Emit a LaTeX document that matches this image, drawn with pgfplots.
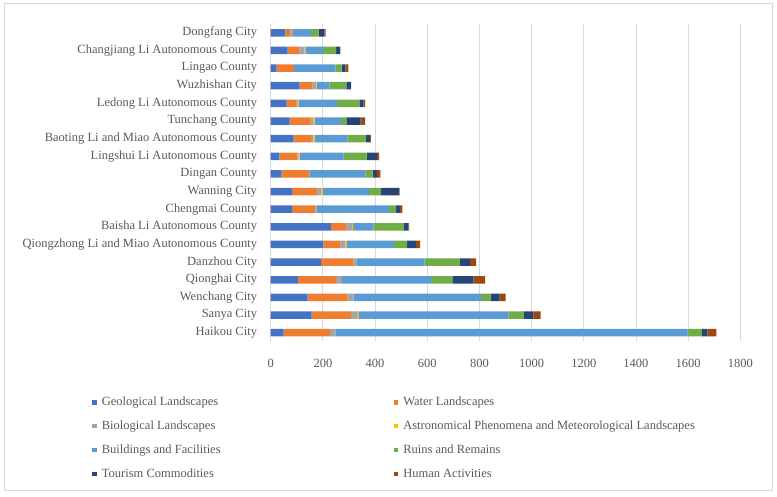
\documentclass[border=0pt]{standalone}
\usepackage{pgfplots}
\usepackage{pgfplotstable}
\pgfplotsset{compat=1.18}
\usepackage{fontspec}
\setmainfont{Liberation Serif}
\definecolor{cGeo}{HTML}{4472C4}
\definecolor{cWat}{HTML}{ED7D31}
\definecolor{cBio}{HTML}{A5A5A5}
\definecolor{cAst}{HTML}{FFC000}
\definecolor{cBui}{HTML}{5B9BD5}
\definecolor{cRui}{HTML}{70AD47}
\definecolor{cTou}{HTML}{264478}
\definecolor{cHum}{HTML}{9E480E}
\definecolor{txt}{HTML}{595959}
\definecolor{grd}{HTML}{D9D9D9}
\pgfplotstableread{
idx geo wat bio ast bui rui tou hum
0  50  178 20 0 1350 55  21 34
1  157 150 24 5 575  59  37 28
2  142 153 23 0 489  38  32 23
3  105 146 23 0 341  81  82 44
4  193 125 13 0 259  135 39 23
5  202 65  19 6 180  51  33 17
6  231 59  21 5 78   116 18 3
7  82  88  6  0 277  28  14 10
8  82  98  14 6 177  45  69 3
9  42  106 0  0 215  28  16 13
10 33  69  5  4 169  88  39 9
11 88  67  7  6 127  70  15 4
12 73  80  9  6 101  21  55 17
13 61  37  6  3 148  85  16 6
14 111 50  12 3 49   65  17 1
15 23  67  0  0 158  24  14 12
16 65  46  19 3 67   51  14 2
17 56  20  10 0 69   29  22 5
}\data
\newcommand{\lf}{\fontsize{12.5bp}{14bp}\selectfont}
\begin{document}
\begin{tikzpicture}
\useasboundingbox (0,0) rectangle (777bp,497bp);
\draw[grd, line width=1bp] (4bp,6bp) rectangle (772bp,493bp);
\begin{axis}[
  at={(270.7bp,155.5bp)}, anchor=south west,
  scale only axis, width=469.6bp, height=317.5bp,
  xbar stacked, bar width=7.5bp,
  xmin=0, xmax=1800, ymin=-0.5, ymax=17.5,
  xtick={0,200,...,1800},
  ytick={0,...,17},
  yticklabels={Haikou City,Sanya City,Wenchang City,Qionghai City,Danzhou City,Qiongzhong Li and Miao Autonomous County,Baisha Li Autonomous County,Chengmai County,Wanning City,Dingan County,Lingshui Li Autonomous County,Baoting Li and Miao Autonomous County,Tunchang County,Ledong Li Autonomous County,Wuzhishan City,Lingao County,Changjiang Li Autonomous County,Dongfang City},
  xmajorgrids, grid style={grd, line width=0.8bp},
  axis line style={draw=none}, major tick length=0pt,
  /pgf/number format/assume math mode=true,
  /pgf/number format/1000 sep={},
  ticklabel style={font=\lf, text=txt},
  xticklabel style={anchor=center, inner sep=0pt, yshift=-21.5bp},
  yticklabel style={anchor=east, inner sep=0pt, xshift=-13.5bp},
  legend columns=2,
  legend style={at={(-0.3799,-0.172)}, anchor=north west, draw=none, fill=none,
    inner sep=0pt, font=\lf, text=txt,
    nodes={inner sep=0pt, text height=9bp, text depth=3bp, anchor=west},
    row sep=11.9bp,
    /tikz/every odd column/.style={column sep=5bp},
    /tikz/every even column/.style={column sep=0bp}},
  legend image code/.code={\fill[#1, draw=none] (0bp,-2.2bp) rectangle (4.4bp,2.2bp);},
  every axis plot/.append style={draw=none},
]
\addplot[fill=cGeo] table[x=geo,y=idx]{\data};
\addlegendentry{\makebox[292bp][l]{Geological Landscapes}}
\addplot[fill=cWat] table[x=wat,y=idx]{\data};
\addlegendentry{Water Landscapes}
\addplot[fill=cBio] table[x=bio,y=idx]{\data};
\addlegendentry{\makebox[292bp][l]{Biological Landscapes}}
\addplot[fill=cAst] table[x=ast,y=idx]{\data};
\addlegendentry{Astronomical Phenomena and Meteorological Landscapes}
\addplot[fill=cBui] table[x=bui,y=idx]{\data};
\addlegendentry{\makebox[292bp][l]{Buildings and Facilities}}
\addplot[fill=cRui] table[x=rui,y=idx]{\data};
\addlegendentry{Ruins and Remains}
\addplot[fill=cTou] table[x=tou,y=idx]{\data};
\addlegendentry{\makebox[292bp][l]{Tourism Commodities}}
\addplot[fill=cHum] table[x=hum,y=idx]{\data};
\addlegendentry{Human Activities}
\end{axis}
\end{tikzpicture}
\end{document}
